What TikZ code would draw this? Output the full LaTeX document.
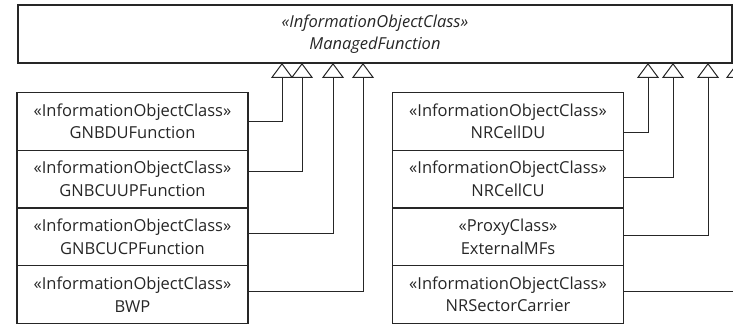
\documentclass[tikz,border=0pt]{standalone}
\usepackage{fontspec}
\setmainfont{Open Sans}
\usepackage{tikz}
\usetikzlibrary{arrows.meta, positioning, calc}

\begin{document}
\begin{tikzpicture}[
            x=1pt, y=-1pt,
            ioc/.style={rectangle, draw=black!85, line width=1.1pt, minimum width=231pt, minimum height=57.5pt, align=center, inner sep=0pt, font=\fontsize{16.5}{22.5}\selectfont, text=black!85},
            parent/.style={rectangle, draw=black!85, line width=1.1pt, minimum width=714pt, minimum height=58pt, align=center, inner sep=0pt, font=\fontsize{16.5}{22.5}\selectfont\itshape, text=black!85},
            gen/.style={draw=black!85, line width=1pt, -{Triangle[open, length=15pt, width=22pt, line width=1pt]}}
        ]
            \clip (0,0) rectangle (733,326);

% Super class
            \node[parent] (mf) at (375,34) {«InformationObjectClass»\\ManagedFunction};

% Left column
            \node[ioc] (gnbdu) at (132.5,121.5) {«InformationObjectClass»\\GNBDUFunction};
            \node[ioc] (gnbcuup) at (132.5,179) {«InformationObjectClass»\\GNBCUUPFunction};
            \node[ioc] (gnbcucp) at (132.5,237) {«InformationObjectClass»\\GNBCUCPFunction};
            \node[ioc] (bwp) at (132.5,294.5) {«InformationObjectClass»\\BWP};

% Right column
            \node[ioc] (celldu) at (508,121.5) {«InformationObjectClass»\\NRCellDU};
            \node[ioc] (cellcu) at (508,179) {«InformationObjectClass»\\NRCellCU};
            \node[ioc] (extmf) at (508,237) {«ProxyClass»\\ExternalMFs};
            \node[ioc] (sector) at (508,294.5) {«InformationObjectClass»\\NRSectorCarrier};

% Arrow ends on the super class
            \coordinate (l1) at (282,63);
            \coordinate (l2) at (302,63);
            \coordinate (l3) at (333,63);
            \coordinate (l4) at (363,63);
            \coordinate (r1) at (648,63);
            \coordinate (r2) at (673,63);
            \coordinate (r3) at (708,63);
            \coordinate (r4) at (737,63);

% Generalisations
            \draw[gen] (gnbdu.east) -| (l1);
            \draw[gen] ([yshift=8pt]gnbcuup.east) -| (l2);
            \draw[gen] ([yshift=4pt]gnbcucp.east) -| (l3);
            \draw[gen] ([yshift=3.5pt]bwp.east) -| (l4);
            \draw[gen] ([yshift=-11.5pt]celldu.east) -| (r1);
            \draw[gen] ([yshift=2pt]cellcu.east) -| (r2);
            \draw[gen] ([yshift=2pt]extmf.east) -| (r3);
            \draw[gen] ([yshift=3.5pt]sector.east) -| (r4);

        \end{tikzpicture}
\end{document}
